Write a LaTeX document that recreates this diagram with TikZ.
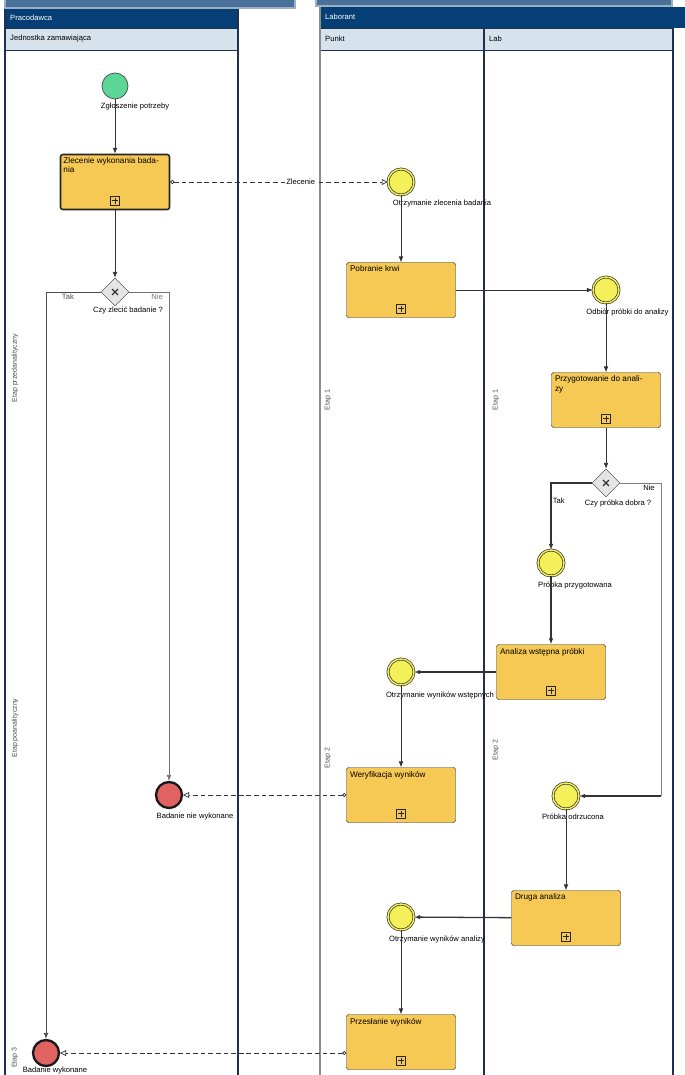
\documentclass[tikz,border=0pt]{standalone}
\usepackage{fontspec}
\setmainfont{Liberation Sans}
\usetikzlibrary{arrows.meta,positioning,shapes.geometric}
\definecolor{bpnavy}{RGB}{6,62,118}
\definecolor{bplane}{RGB}{214,226,236}
\definecolor{bpband}{RGB}{72,112,152}
\definecolor{bpline}{RGB}{30,48,78}
\definecolor{bptask}{RGB}{246,200,84}
\definecolor{bpevent}{RGB}{244,240,90}
\definecolor{bpstart}{RGB}{92,214,150}
\definecolor{bpend}{RGB}{226,98,98}

\begin{document}
\begin{tikzpicture}[x=0.03cm,y=-0.03cm,font=\fontsize{7}{8}\selectfont,
      task/.style={draw=black!85,fill=bptask,rounded corners=2pt,minimum width=3.27cm,minimum height=1.65cm,
        path picture={\draw[line width=.6pt,rounded corners=0pt]
          ([shift={(-4pt,3.5pt)}]path picture bounding box.south) rectangle ++(8pt,8pt)
          ([shift={(-2.5pt,7.5pt)}]path picture bounding box.south) -- ++(5pt,0)
          ([shift={(0,5pt)}]path picture bounding box.south) -- ++(0,5pt);}},
      tasktxt/.style={anchor=north west,align=left,inner sep=3pt},
      ev/.style={circle,minimum size=.78cm,inner sep=0,draw=black!80,fill=bpevent,double=bpevent,double distance=1.2pt,line width=.6pt},
      startev/.style={circle,minimum size=.78cm,inner sep=0,draw=black!70,fill=bpstart,line width=.6pt},
      endev/.style={circle,minimum size=.78cm,inner sep=0,draw=black!90,fill=bpend,line width=2pt},
      gw/.style={diamond,aspect=1,minimum width=.84cm,minimum height=.84cm,inner sep=0,draw=black!80,fill=black!10,
        path picture={\draw[line width=1pt]
          ([shift={(-2.5pt,-2.5pt)}]path picture bounding box.center) -- ++(5pt,5pt)
          ([shift={(-2.5pt,2.5pt)}]path picture bounding box.center) -- ++(5pt,-5pt);}},
      seq/.style={draw=black!80,line width=.6pt,-{Latex[length=5pt,width=4pt]}},
      seqb/.style={seq,line width=1.1pt},
      msg/.style={draw=black!80,line width=.6pt,dash pattern=on 4pt off 2.5pt,
        {Circle[open,length=3.5pt]}-{Triangle[open,length=5pt,width=5pt]}},
      lbl/.style={font=\fontsize{6.5}{7.5}\selectfont,inner sep=1pt,anchor=north},
      vlbl/.style={rotate=90,font=\fontsize{6}{7}\selectfont,text=black!70,inner sep=1pt},
      hdr/.style={anchor=west,inner sep=0pt,font=\fontsize{6.5}{7.5}\selectfont}]
  \useasboundingbox (0,0) rectangle (685,1075);
  \fill[bpband] (5,0) rectangle (295,8);
  \draw[bpband!55!white,line width=1pt] (5,0) -- (5,8) -- (295,8) -- (295,0);
  \fill[bpband] (316,0) rectangle (672,6);
  \draw[bpband!55!white,line width=1pt] (316,0) -- (316,6) -- (672,6) -- (672,0);
  \fill[bpnavy] (5,9) rectangle (238,28);
  \fill[bplane] (5,28) rectangle (238,50);
  \fill[bpnavy] (320,7) rectangle (685,28);
  \fill[bplane] (320,28) rectangle (673,50);
  \draw[bpline,line width=1pt] (5,1075) -- (5,9) (238,9) -- (238,1075);
  \draw[bpline] (5,28) -- (238,28) (5,50) -- (238,50) (320,28) -- (673,28) (320,50) -- (673,50);
  \draw[black!45,line width=1pt] (320,7) -- (320,1075);
  \draw[bpline,line width=1pt] (484,28) -- (484,1075) (673,28) -- (673,1075);
  \node[hdr,text=white] (p1) at (10,18) {Pracodawca};
  \node[hdr] (p1a) at (10,39) {Jednostka zamawiająca};
  \node[hdr,text=white] (p2) at (325,17) {Laborant};
  \node[hdr] (p2a) at (325,39) {Punkt};
  \node[hdr] (p2b) at (489,39) {Lab};
  \node[vlbl] (v1) at (15,368) {Etap przedanalityczny};
  \node[vlbl] (v2) at (15,728) {Etap poanalityczny};
  \node[vlbl,anchor=east] (v3) at (15,1046) {Etap 3};
  \node[vlbl] (va1) at (328,400) {Etap 1};
  \node[vlbl] (vb1) at (496,400) {Etap 1};
  \node[vlbl] (va2) at (328,758) {Etap 2};
  \node[vlbl] (vb2) at (496,750) {Etap 2};

  \node[startev] (st) at (115,86) {};
  \node[lbl] (lst) at (135,102) {Zgłoszenie potrzeby};
  \node[task,line width=1.3pt] (t1) at (115,182) {};
  \node[tasktxt] (t1x) at (t1.north west) {Zlecenie wykonania bada-\\nia};
  \node[gw] (g1) at (115,292) {};
  \node[lbl] (lg1) at (128,305) {Czy zlecić badanie ?};
  \node[endev] (end1) at (169,795) {};
  \node[lbl] (lend1) at (195,812) {Badanie nie wykonane};
  \node[endev] (end2) at (46,1053) {};
  \node[lbl] (lend2) at (55,1066) {Badanie wykonane};

  \node[ev] (e1) at (401,182) {};
  \node[lbl] (l1) at (442,199) {Otrzymanie zlecenia badania};
  \node[task] (t2) at (401,290) {};
  \node[tasktxt] (t2x) at (t2.north west) {Pobranie krwi};
  \node[ev] (e2) at (606,290) {};
  \node[lbl,anchor=north west] (l2) at (585,307) {Odbiór próbki do analizy};
  \node[task] (t3) at (606,400) {};
  \node[tasktxt] (t3x) at (t3.north west) {Przygotowanie do anali-\\zy};
  \node[gw] (g2) at (606,483) {};
  \node[lbl] (lg2) at (618,498) {Czy próbka dobra ?};
  \node[ev] (e3) at (551,563) {};
  \node[lbl] (l3) at (575,580) {Próbka przygotowana};
  \node[task] (t4) at (551,672) {};
  \node[tasktxt] (t4x) at (t4.north west) {Analiza wstępna próbki};
  \node[ev] (e4) at (401,672) {};
  \node[lbl] (l4) at (440,690) {Otrzymanie wyników wstępnych};
  \node[task] (t5) at (401,795) {};
  \node[tasktxt] (t5x) at (t5.north west) {Weryfikacja wyników};
  \node[ev] (e5) at (566,796) {};
  \node[lbl] (l5) at (573,812) {Próbka odrzucona};
  \coordinate (n2) at (661,796);
  \node[task] (t6) at (566,918) {};
  \node[tasktxt] (t6x) at (t6.north west) {Druga analiza};
  \node[ev] (e6) at (401,917) {};
  \node[lbl] (l6) at (437,934) {Otrzymanie wyników analizy};
  \node[task] (t7) at (401,1042) {};
  \node[tasktxt] (t7x) at (t7.north west) {Przesłanie wyników};

  \draw[seq] (st) -- (t1);
  \draw[msg] (t1) -- (e1) node[pos=.6,fill=white,inner sep=1pt,font=\fontsize{6.5}{7.5}\selectfont] (m1) {Zlecenie};
  \draw[seq] (t1) -- (g1);
  \draw[seq,black!70] (g1.west) -| (end2) node[pos=.3,lbl] (lt1) {Tak};
  \draw[seq,black!55] (g1.east) -| (end1) node[pos=.35,lbl] (ln1) {Nie};
  \draw[seq] (e1) -- (t2);
  \draw[seq] (t2) -- (e2);
  \draw[seq] (e2) -- (t3);
  \draw[seq] (t3) -- (g2);
  \draw[seqb] (g2.west) -| (e3) node[pos=.6,lbl,anchor=north west] (lt2) {Tak};
  \draw[black!50,line width=.6pt] (g2.east) -| (n2);
  \node[lbl] (ln2) at (649,484) {Nie};
  \draw[seqb] (n2) -- (e5);
  \draw[seqb] (e3) -- (t4);
  \draw[seqb] (t4) -- (e4);
  \draw[seq] (e4) -- (t5);
  \draw[msg] (t5) -- (end1);
  \draw[seq] (e5) -- (t6);
  \draw[seqb] (t6) -- (e6);
  \draw[seq] (e6) -- (t7);
  \draw[msg] (t7.west |- end2) -- (end2);
\end{tikzpicture}
\end{document}
